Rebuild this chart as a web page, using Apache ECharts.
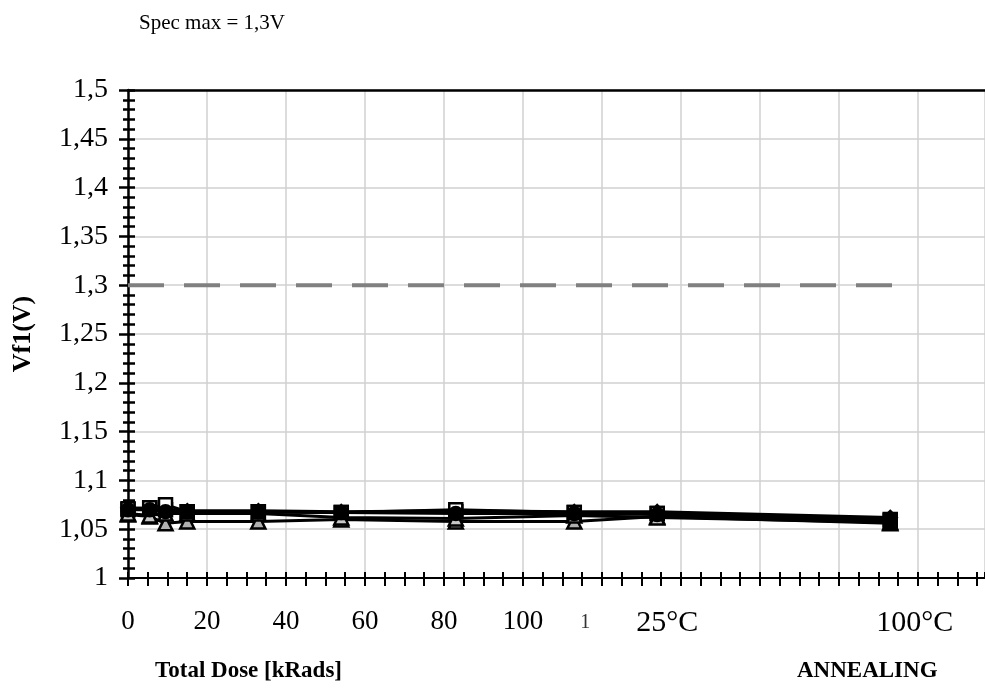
<!DOCTYPE html>
<html>
<head>
<meta charset="utf-8">
<script src="https://cdn.jsdelivr.net/npm/echarts@6/dist/echarts.min.js"></script>
<style>
  html, body { margin: 0; padding: 0; background: #fff; }
  #chart { width: 985px; height: 695px; }
</style>
</head>
<body>
<div id="chart"></div>
<script>
// dose / annealing steps, as plotted along the x axis
var xSteps = [0, 5.5, 9.5, 15, 33, 54, 83, 113, 134, 193];

// Vf1 per part
var partA = [1.072, 1.071, 1.069, 1.069, 1.069, 1.068, 1.069, 1.068, 1.068, 1.062];
var partB = [1.070, 1.072, 1.070, 1.068, 1.068, 1.067, 1.068, 1.067, 1.066, 1.060];
var partC = [1.065, 1.063, 1.056, 1.058, 1.058, 1.060, 1.058, 1.058, 1.063, 1.056];
var partD = [1.066, 1.064, 1.066, 1.066, 1.066, 1.062, 1.061, 1.064, 1.062, 1.057];
var partE = [1.071, 1.072, 1.075, 1.068, 1.068, 1.067, 1.070, 1.067, 1.066, 1.059];
var partF = [1.070, 1.070, 1.068, 1.068, 1.068, 1.067, 1.066, 1.066, 1.065, 1.059];

var specMax = 1.3;
var specRange = [0, 195];

var xTickValues = [0, 20, 40, 60, 80, 100, 115, 135, 200];
var xTickLabels = ['0', '20', '40', '60', '80', '100', '1', '25°C', '100°C'];

var serif = "'Liberation Serif', 'DejaVu Serif', serif";

function pairs(ys) {
  var res = [];
  for (var i = 0; i < ys.length; i++) {
    res.push([xSteps[i], ys[i]]);
  }
  return res;
}

function part(name, ys, symbol, fill) {
  return {
    name: name,
    type: 'line',
    data: pairs(ys),
    symbol: symbol,
    symbolSize: symbol === 'triangle' ? 14 : 13,
    lineStyle: { color: '#000', width: 3 },
    itemStyle: { color: fill, borderColor: '#000', borderWidth: 2.5 },
    z: 5
  };
}

var option = {
  animation: false,
  title: [
    { text: 'Spec max = 1,3V', left: 134, top: 8,
      textStyle: { fontFamily: serif, fontSize: 21, fontWeight: 'normal', color: '#000' } },
    { text: 'Total Dose [kRads]', left: 150, top: 655,
      textStyle: { fontFamily: serif, fontSize: 23, fontWeight: 'bold', color: '#000' } },
    { text: 'ANNEALING', left: 792, top: 655,
      textStyle: { fontFamily: serif, fontSize: 23, fontWeight: 'bold', color: '#000' } }
  ],
  grid: { left: 128, top: 90, right: 0, height: 488 },
  xAxis: [
    {
      type: 'value', min: 0, max: 217, interval: 5, position: 'bottom',
      axisLine: { lineStyle: { color: '#000', width: 2 } },
      axisTick: { show: true, length: 8, lineStyle: { color: '#000', width: 2 } },
      splitLine: { show: false },
      axisLabel: {
        margin: 30, fontFamily: serif, fontSize: 27, color: '#000',
        showMinLabel: true, showMaxLabel: false,
        formatter: function (v) {
          var i = xTickValues.indexOf(Math.round(v));
          if (i < 0) return '';
          if (xTickLabels[i] === '1') return '{small|1}';
          if (xTickLabels[i] === '25°C') return '{warm|25°C}';
          if (xTickLabels[i].indexOf('°') >= 0) return '{big|' + xTickLabels[i] + '}';
          return xTickLabels[i];
        },
        rich: {
          small: { fontFamily: serif, fontSize: 20, color: '#333', lineHeight: 30, padding: [0, 0, 0, 6] },
          warm: { fontFamily: serif, fontSize: 30, color: '#000', lineHeight: 30, padding: [0, 0, 0, 12] },
          big: { fontFamily: serif, fontSize: 30, color: '#000', lineHeight: 30, padding: [0, 6, 0, 0] }
        }
      }
    },
    {
      type: 'value', min: 0, max: 217, interval: 5, position: 'bottom',
      axisLine: { show: false },
      axisTick: { show: true, inside: true, length: 6, lineStyle: { color: '#000', width: 2 } },
      axisLabel: { show: false },
      splitLine: { show: false }
    },
    {
      type: 'value', min: 0, max: 217, interval: 20, position: 'bottom',
      axisLine: { show: false }, axisTick: { show: false }, axisLabel: { show: false },
      splitLine: { show: true, lineStyle: { color: '#d0d0d0', width: 1.5 } }
    },
    {
      type: 'value', min: 0, max: 217, position: 'top',
      axisLine: { show: true, lineStyle: { color: '#000', width: 2.5 } },
      axisTick: { show: false }, axisLabel: { show: false }, splitLine: { show: false }
    }
  ],
  yAxis: [
    {
      type: 'value', min: 1, max: 1.5, interval: 0.05,
      name: 'Vf1(V)', nameLocation: 'middle', nameGap: 92,
      nameTextStyle: { fontFamily: serif, fontSize: 26, fontWeight: 'bold', color: '#000' },
      axisLine: { show: true, lineStyle: { color: '#000', width: 2.5 } },
      axisTick: { show: true, length: 9, lineStyle: { color: '#000', width: 2.5 } },
      minorTick: { show: true, splitNumber: 5, length: 5, lineStyle: { color: '#000', width: 2.5 } },
      splitLine: { show: true, lineStyle: { color: '#d0d0d0', width: 1.5 } },
      axisLabel: {
        margin: 20, fontFamily: serif, fontSize: 28, color: '#000',
        formatter: function (v) {
          return String(Math.round(v * 100) / 100).replace('.', ',');
        }
      }
    },
    {
      type: 'value', min: 1, max: 1.5, interval: 0.05, position: 'left',
      axisLine: { show: false },
      axisTick: { show: true, inside: true, length: 7, lineStyle: { color: '#000', width: 2.5 } },
      minorTick: { show: true, splitNumber: 5, length: 7, lineStyle: { color: '#000', width: 2.5 } },
      splitLine: { show: false },
      axisLabel: { show: false }
    }
  ],
  series: [
    {
      name: 'Spec max',
      type: 'line',
      data: [[specRange[0], specMax], [specRange[1], specMax]],
      symbol: 'none',
      lineStyle: { color: '#808080', width: 4, type: [36, 20] },
      z: 3
    },
    part('A', partA, 'diamond', '#000'),
    part('B', partB, 'rect', '#c0c0c0'),
    part('C', partC, 'triangle', '#b0b0b0'),
    part('D', partD, 'triangle', '#c8c8c8'),
    part('E', partE, 'rect', '#ffffff'),
    part('F', partF, 'circle', '#000')
  ]
};

var myChart = echarts.init(document.getElementById('chart'));
myChart.setOption(option);
</script>
</body>
</html>
